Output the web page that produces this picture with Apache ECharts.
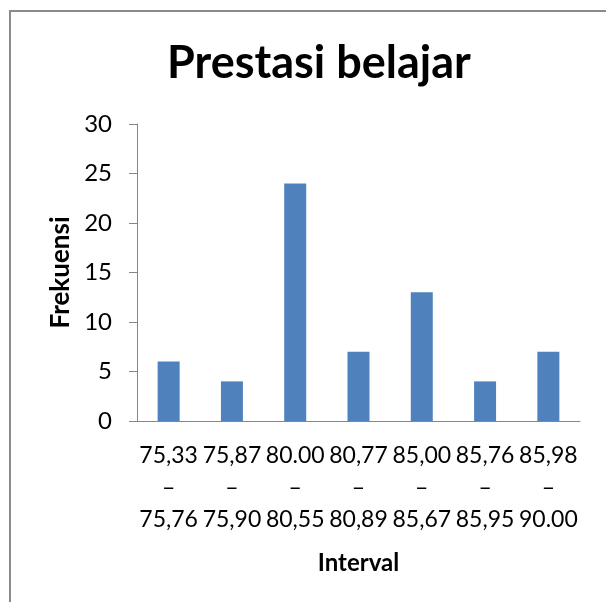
<!DOCTYPE html>
<html>
<head>
<meta charset="utf-8">
<script src="https://cdn.jsdelivr.net/npm/echarts@6/dist/echarts.min.js"></script>
<style>
  html, body { margin: 0; padding: 0; background: #fff; }
  #chart { width: 606px; height: 602px; }
</style>
</head>
<body>
<div id="chart"></div>
<script>
// interval classes (lower – upper) and their frequencies
const lowerBounds = ['75,33', '75,87', '80.00', '80,77', '85,00', '85,76', '85,98']
const upperBounds = ['75,76', '75,90', '80,55', '80,89', '85,67', '85,95', '90.00']
const frekuensi = [6, 4, 24, 7, 13, 4, 7]
const yTicks = [0, 5, 10, 15, 20, 25, 30]

const categories = lowerBounds.map((lo, i) => lo + '\n–\n' + upperBounds[i])
const font = 'Lato'

const chart = echarts.init(document.getElementById('chart'))

chart.setOption({
  animation: false,
  backgroundColor: '#fff',
  textStyle: { fontFamily: font },
  title: {
    text: 'Prestasi belajar',
    left: 162,
    top: 36,
    textStyle: { fontSize: 45, fontWeight: 'bold', color: '#000', fontFamily: font }
  },
  graphic: [
    {
      type: 'rect',
      shape: { x: 10, y: 11, width: 700, height: 700 },
      style: { fill: 'none', stroke: '#8a8a8a', lineWidth: 2 },
      silent: true
    }
  ],
  grid: { left: 137, right: 26, top: 124, bottom: 181 },
  xAxis: {
    type: 'category',
    data: categories,
    name: 'Interval',
    nameLocation: 'middle',
    nameGap: 130,
    nameTextStyle: { fontSize: 24, fontWeight: 'bold', color: '#000' },
    axisLine: { lineStyle: { color: '#868686', width: 1 } },
    axisTick: { show: false },
    axisLabel: {
      interval: 0,
      margin: 19,
      fontSize: 23,
      lineHeight: 32,
      color: '#000'
    }
  },
  yAxis: {
    type: 'value',
    min: yTicks[0],
    max: yTicks[yTicks.length - 1],
    interval: 5,
    name: 'Frekuensi',
    nameLocation: 'middle',
    nameGap: 59,
    nameTextStyle: { fontSize: 26, fontWeight: 'bold', color: '#000' },
    axisLine: { show: true, lineStyle: { color: '#868686', width: 1 } },
    axisTick: { show: true, length: 8, lineStyle: { color: '#868686' } },
    axisLabel: { margin: 25, fontSize: 24, color: '#000' },
    splitLine: { show: false }
  },
  series: [
    {
      type: 'bar',
      data: frekuensi,
      barWidth: 22,
      itemStyle: { color: '#4f81bd' }
    }
  ]
})
</script>
</body>
</html>
